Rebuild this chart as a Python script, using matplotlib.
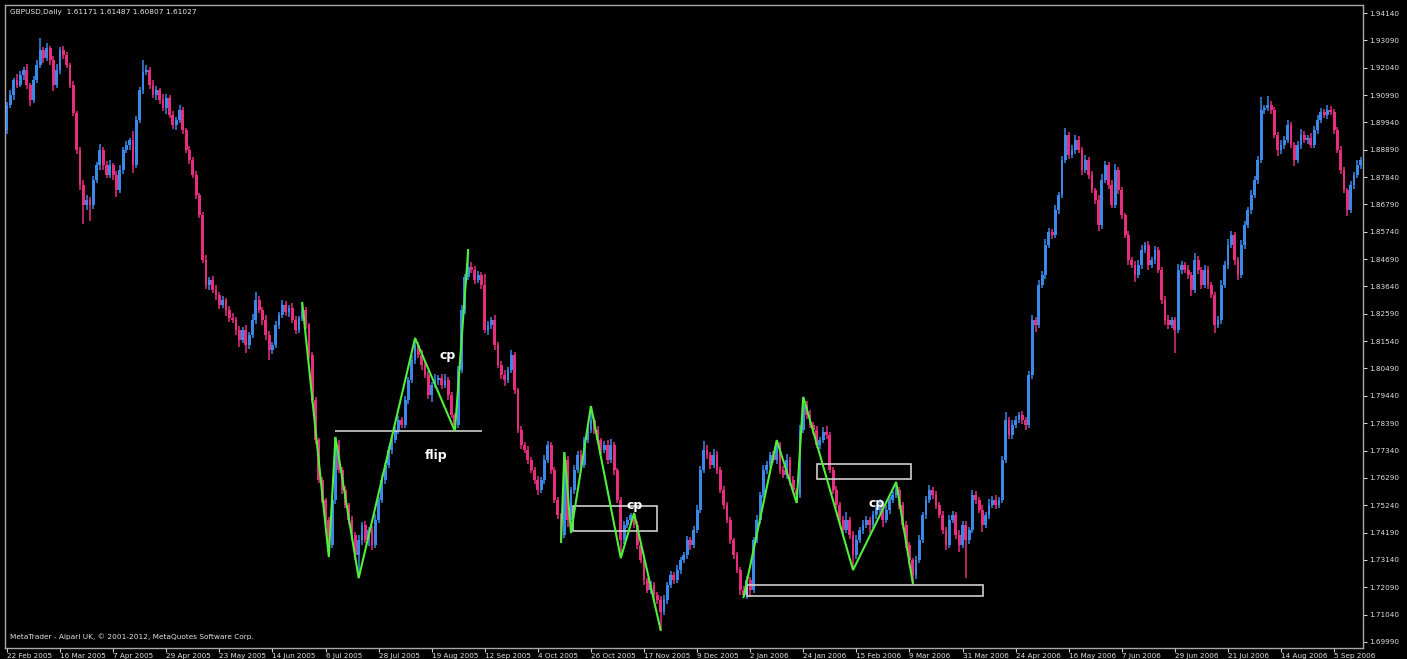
import matplotlib
matplotlib.use("Agg")
import matplotlib.pyplot as plt
from matplotlib.patches import Rectangle

# ---------------- data ----------------
first_open = 1.8965
closes = [
    1.9061, 1.9099, 1.9157, 1.9138, 1.9176, 1.9195, 1.9138, 1.9080, 1.9157, 1.9214, 1.9272, 1.9241, 1.9280, 1.9234, 1.9138, 1.9195, 1.9272, 1.9253, 1.9214, 1.9138,
    1.9030, 1.8888, 1.8754, 1.8677, 1.8696, 1.8677, 1.8773, 1.8830, 1.8888, 1.8830, 1.8792, 1.8830, 1.8792, 1.8734, 1.8811, 1.8888, 1.8907, 1.8926, 1.8830, 1.9003,
    1.9118, 1.9188, 1.9195, 1.9138, 1.9099, 1.9118, 1.9080, 1.9049, 1.9088, 1.9022, 1.8984, 1.9003, 1.9042, 1.8965, 1.8888, 1.8850, 1.8792, 1.8715, 1.8638, 1.8466,
    1.8370, 1.8389, 1.8350, 1.8331, 1.8293, 1.8312, 1.8274, 1.8243, 1.8235, 1.8197, 1.8158, 1.8197, 1.8139, 1.8178, 1.8235, 1.8312, 1.8274, 1.8235, 1.8178, 1.8120,
    1.8139, 1.8216, 1.8254, 1.8293, 1.8266, 1.8281, 1.8235, 1.8197, 1.8243, 1.8274, 1.8216, 1.8101, 1.7928, 1.7774, 1.7621, 1.7544, 1.7467, 1.7371, 1.7544, 1.7755,
    1.7659, 1.7582, 1.7525, 1.7467, 1.7410, 1.7333, 1.7390, 1.7448, 1.7390, 1.7429, 1.7371, 1.7467, 1.7544, 1.7621, 1.7678, 1.7736, 1.7774, 1.7813, 1.7851, 1.7832,
    1.7928, 1.8005, 1.8082, 1.8139, 1.8101, 1.8062, 1.8024, 1.7947, 1.7986, 1.8005, 1.8012, 1.7986, 1.8005, 1.7947, 1.7870, 1.7832, 1.8043, 1.8274, 1.8400, 1.8439,
    1.8427, 1.8389, 1.8408, 1.8370, 1.8197, 1.8216, 1.8235, 1.8139, 1.8062, 1.8024, 1.8005, 1.8043, 1.8101, 1.7966, 1.7813, 1.7755, 1.7736, 1.7698, 1.7659, 1.7621,
    1.7582, 1.7621, 1.7698, 1.7755, 1.7659, 1.7544, 1.7486, 1.7410, 1.7698, 1.7467, 1.7582, 1.7659, 1.7717, 1.7678, 1.7774, 1.7813, 1.7851, 1.7813, 1.7774, 1.7736,
    1.7755, 1.7698, 1.7755, 1.7659, 1.7544, 1.7390, 1.7448, 1.7467, 1.7486, 1.7448, 1.7371, 1.7314, 1.7237, 1.7198, 1.7218, 1.7179, 1.7160, 1.7114, 1.7160, 1.7218,
    1.7256, 1.7237, 1.7275, 1.7314, 1.7333, 1.7390, 1.7371, 1.7429, 1.7506, 1.7659, 1.7736, 1.7717, 1.7678, 1.7717, 1.7659, 1.7582, 1.7525, 1.7467, 1.7390, 1.7333,
    1.7275, 1.7198, 1.7179, 1.7237, 1.7198, 1.7390, 1.7467, 1.7563, 1.7659, 1.7678, 1.7717, 1.7698, 1.7755, 1.7659, 1.7640, 1.7698, 1.7621, 1.7582, 1.7563, 1.7813,
    1.7909, 1.7870, 1.7832, 1.7813, 1.7755, 1.7774, 1.7805, 1.7794, 1.7659, 1.7582, 1.7525, 1.7467, 1.7429, 1.7467, 1.7410, 1.7333, 1.7390, 1.7429, 1.7448, 1.7467,
    1.7448, 1.7486, 1.7506, 1.7525, 1.7467, 1.7506, 1.7544, 1.7563, 1.7582, 1.7525, 1.7448, 1.7371, 1.7314, 1.7256, 1.7314, 1.7390, 1.7486, 1.7544, 1.7582, 1.7563,
    1.7525, 1.7486, 1.7429, 1.7371, 1.7467, 1.7486, 1.7410, 1.7371, 1.7448, 1.7390, 1.7429, 1.7563, 1.7544, 1.7506, 1.7448, 1.7486, 1.7525, 1.7544, 1.7525, 1.7544,
    1.7698, 1.7851, 1.7794, 1.7832, 1.7851, 1.7870, 1.7851, 1.7832, 1.8024, 1.8235, 1.8216, 1.8370, 1.8408, 1.8523, 1.8573, 1.8562, 1.8658, 1.8715, 1.8850, 1.8946,
    1.8869, 1.8888, 1.8926, 1.8888, 1.8811, 1.8850, 1.8792, 1.8734, 1.8696, 1.8600, 1.8773, 1.8830, 1.8754, 1.8677, 1.8811, 1.8734, 1.8638, 1.8562, 1.8466, 1.8446,
    1.8408, 1.8446, 1.8504, 1.8523, 1.8446, 1.8466, 1.8504, 1.8427, 1.8312, 1.8235, 1.8216, 1.8235, 1.8197, 1.8427, 1.8446, 1.8427, 1.8408, 1.8350, 1.8466, 1.8427,
    1.8370, 1.8427, 1.8370, 1.8331, 1.8216, 1.8235, 1.8370, 1.8446, 1.8523, 1.8562, 1.8466, 1.8408, 1.8523, 1.8600, 1.8658, 1.8715, 1.8773, 1.8850, 1.9042, 1.9049,
    1.9061, 1.9042, 1.8946, 1.8888, 1.8907, 1.8926, 1.8984, 1.8907, 1.8850, 1.8907, 1.8946, 1.8926, 1.8934, 1.8907, 1.8965, 1.9003, 1.9034, 1.9022, 1.9042, 1.9034,
    1.8965, 1.8888, 1.8811, 1.8734, 1.8658, 1.8754, 1.8792, 1.8830, 1.8850,
]
# upper / lower shadows in pips beyond the candle body
wick_up = [
    12, 18, 9, 22, 14, 10, 25, 8, 16, 20, 46, 12, 19, 9, 15, 24, 11, 17, 13, 10,
    14, 9, 12, 18, 20, 11, 16, 13, 22, 10, 15, 19, 8, 14, 21, 12, 17, 10, 35, 16,
    13, 46, 18, 11, 20, 14, 9, 22, 15, 12, 17, 10, 19, 13, 8, 16, 11, 14, 9, 12,
    18, 10, 15, 21, 12, 17, 9, 14, 20, 11, 16, 13, 18, 10, 22, 30, 15, 12, 19, 14,
    10, 17, 13, 20, 15, 11, 18, 14, 9, 27, 12, 8, 10, 11, 9, 12, 8, 10, 15, 31,
    18, 12, 14, 9, 16, 11, 20, 13, 17, 10, 15, 22, 12, 18, 10, 14, 19, 11, 16, 13,
    15, 10, 18, 27, 12, 20, 14, 17, 11, 22, 13, 16, 24, 10, 12, 9, 15, 18, 12, 65,
    20, 14, 17, 11, 40, 16, 12, 19, 10, 15, 21, 13, 18, 11, 9, 14, 12, 16, 10, 13,
    15, 11, 19, 14, 12, 10, 13, 9, 31, 16, 12, 18, 14, 20, 11, 15, 54, 12, 17, 10,
    14, 19, 25, 11, 9, 13, 16, 12, 10, 8, 15, 11, 13, 9, 16, 12, 10, 14, 18, 12,
    16, 11, 19, 13, 10, 17, 12, 15, 20, 14, 35, 18, 12, 22, 16, 11, 14, 10, 13, 9,
    12, 10, 14, 16, 11, 13, 18, 12, 20, 15, 11, 17, 19, 13, 16, 22, 12, 14, 10, 18,
    31, 14, 19, 12, 16, 11, 20, 25, 13, 10, 15, 12, 17, 30, 11, 14, 18, 12, 20, 15,
    13, 17, 11, 22, 14, 19, 12, 16, 31, 13, 10, 15, 11, 9, 14, 18, 12, 16, 20, 13,
    17, 11, 14, 10, 19, 15, 12, 18, 14, 16, 13, 20, 15, 11, 17, 12, 22, 14, 18, 12,
    15, 30, 12, 19, 14, 11, 17, 13, 16, 20, 12, 18, 15, 22, 14, 11, 19, 13, 16, 25,
    12, 18, 20, 14, 11, 17, 13, 15, 10, 19, 22, 14, 12, 18, 25, 11, 13, 10, 16, 12,
    14, 19, 20, 13, 17, 11, 15, 12, 10, 14, 18, 12, 11, 23, 16, 13, 19, 10, 25, 14,
    12, 18, 15, 11, 13, 17, 19, 14, 22, 16, 12, 10, 18, 15, 13, 20, 17, 14, 50, 12,
    35, 16, 12, 10, 18, 14, 20, 11, 13, 17, 22, 15, 12, 18, 14, 19, 16, 13, 20, 15,
    12, 10, 14, 11, 9, 16, 13, 18, 12,
]
wick_dn = [
    15, 10, 18, 12, 9, 20, 14, 22, 11, 13, 10, 17, 12, 19, 25, 11, 14, 16, 10, 13,
    12, 16, 20, 75, 18, 60, 14, 11, 17, 20, 13, 10, 18, 25, 12, 15, 11, 19, 30, 13,
    10, 14, 12, 17, 11, 20, 16, 13, 22, 10, 15, 18, 12, 14, 11, 17, 13, 15, 10, 12,
    16, 20, 12, 18, 14, 11, 22, 15, 13, 19, 25, 12, 30, 14, 11, 16, 13, 20, 18, 40,
    15, 12, 17, 10, 14, 19, 13, 16, 11, 12, 14, 10, 12, 15, 11, 13, 18, 46, 12, 14,
    11, 16, 13, 18, 20, 20, 88, 17, 12, 22, 18, 11, 13, 10, 15, 12, 14, 11, 16, 13,
    12, 15, 10, 14, 13, 17, 11, 16, 25, 12, 18, 14, 11, 19, 13, 23, 12, 10, 14, 11,
    13, 17, 12, 15, 11, 20, 14, 18, 12, 16, 22, 13, 11, 15, 12, 14, 10, 17, 13, 15,
    18, 12, 14, 11, 16, 13, 15, 27, 12, 25, 50, 14, 11, 18, 12, 13, 10, 15, 12, 16,
    11, 14, 12, 18, 13, 69, 16, 11, 14, 12, 15, 13, 18, 11, 16, 20, 14, 69, 12, 15,
    13, 17, 11, 15, 12, 14, 18, 11, 13, 10, 12, 16, 14, 11, 17, 13, 15, 12, 14, 16,
    13, 18, 8, 15, 25, 12, 10, 14, 11, 16, 13, 12, 15, 17, 11, 14, 18, 12, 31, 10,
    12, 15, 11, 14, 13, 17, 12, 16, 11, 14, 13, 15, 18, 12, 14, 58, 16, 12, 15, 13,
    30, 12, 14, 11, 25, 13, 16, 12, 11, 14, 15, 12, 18, 31, 14, 11, 13, 16, 12, 15,
    14, 12, 17, 20, 13, 11, 16, 28, 12, 146, 14, 11, 15, 13, 25, 12, 14, 11, 16, 13,
    12, 10, 14, 16, 11, 13, 15, 20, 12, 14, 25, 11, 13, 16, 12, 14, 11, 15, 13, 12,
    16, 11, 14, 12, 18, 13, 15, 11, 17, 23, 14, 12, 16, 13, 11, 15, 14, 12, 20, 13,
    25, 12, 14, 11, 18, 13, 15, 12, 16, 20, 14, 11, 90, 13, 15, 12, 17, 22, 13, 14,
    16, 12, 14, 13, 30, 11, 15, 12, 14, 13, 18, 20, 12, 14, 11, 16, 13, 15, 12, 14,
    13, 15, 12, 22, 14, 16, 11, 13, 25, 12, 14, 11, 15, 13, 12, 14, 11, 13, 15, 12,
    14, 12, 16, 13, 25, 12, 14, 13, 15,
]

date_labels = ["22 Feb 2005", "16 Mar 2005", "7 Apr 2005", "29 Apr 2005", "23 May 2005",
               "14 Jun 2005", "6 Jul 2005", "28 Jul 2005", "19 Aug 2005", "12 Sep 2005",
               "4 Oct 2005", "26 Oct 2005", "17 Nov 2005", "9 Dec 2005", "2 Jan 2006",
               "24 Jan 2006", "15 Feb 2006", "9 Mar 2006", "31 Mar 2006", "24 Apr 2006",
               "16 May 2006", "7 Jun 2006", "29 Jun 2006", "21 Jul 2006", "14 Aug 2006",
               "5 Sep 2006"]
date_bars = [0, 16, 32, 48, 64, 80, 96, 112, 128, 144, 160, 176, 192, 208, 224,
             240, 256, 272, 288, 304, 320, 336, 352, 368, 384, 400]
price_ticks = [1.69990, 1.71040, 1.72090, 1.73140, 1.74190, 1.75240, 1.76290, 1.77340,
               1.78390, 1.79440, 1.80490, 1.81540, 1.82590, 1.83640, 1.84690, 1.85740,
               1.86790, 1.87840, 1.88890, 1.89940, 1.90990, 1.92040, 1.93090, 1.94140]

# zigzag swings (bar index, price)
zz1_bars = [89, 97, 99, 106, 123, 135, 139]
zz1_prices = [1.8301, 1.7325, 1.7786, 1.7244, 1.8166, 1.7809, 1.8504]
zz2_bars = [167, 168, 170, 176, 185, 189, 197]
zz2_prices = [1.7383, 1.7728, 1.7417, 1.7905, 1.7321, 1.7494, 1.7045]
zz3_bars = [222, 232, 238, 240, 255, 268, 273]
zz3_prices = [1.7171, 1.7774, 1.7533, 1.7940, 1.7275, 1.7613, 1.7225]

flip_level = 1.7809
flip_bars = (98.9, 143.2)
# zones: (bar start, bar end, low price, high price)
zones = [(170.6, 195.9, 1.7425, 1.7521),
         (244.2, 272.5, 1.7625, 1.7682),
         (223.1, 294.2, 1.7175, 1.7218)]
labels = [("cp", 132.9, 1.8097), ("flip", 129.3, 1.7713),
          ("cp", 189.3, 1.7523), ("cp", 262.0, 1.7529)]

title_text = "GBPUSD,Daily  1.61171 1.61487 1.60807 1.61027"
footer_text = "MetaTrader - Alpari UK, \u00a9 2001-2012, MetaQuotes Software Corp."

# ---------------- figure ----------------
W, H = 1407, 659
fig = plt.figure(figsize=(W / 100, H / 100), dpi=100, facecolor="black")
ax = fig.add_axes([5 / W, 11 / H, 1358 / W, 643 / H], facecolor="black")

n = min(len(closes), len(wick_up), len(wick_dn))
bull_c = "#3a88e8"
bear_c = "#e62d7e"
xs, lo, hi, bot, ht, cols = [], [], [], [], [], []
prev = first_open
for i in range(n):
    o, c = prev, closes[i]
    top = max(o, c)
    b = min(o, c)
    xs.append(i)
    hi.append(top + wick_up[i] * 1e-4)
    lo.append(b - wick_dn[i] * 1e-4)
    bot.append(b)
    ht.append(max(top - b, 0.0003))
    cols.append(bull_c if c >= o else bear_c)
    prev = c

ax.vlines(xs, lo, hi, colors=cols, linewidth=1.1, zorder=2)
ax.bar(xs, ht, bottom=bot, width=0.85, color=cols, linewidth=0, zorder=3)

green = "#4ef03a"
for bx, py in ((zz1_bars, zz1_prices), (zz2_bars, zz2_prices), (zz3_bars, zz3_prices)):
    ax.plot(bx, py, color=green, linewidth=1.5, zorder=5, solid_joinstyle="miter")

line_c = "#cfcfcf"
ax.hlines(flip_level, flip_bars[0], flip_bars[1], colors=line_c, linewidth=1.2, zorder=4)
for x0, x1, p0, p1 in zones:
    ax.add_patch(Rectangle((x0, p0), x1 - x0, p1 - p0, fill=False,
                           edgecolor=line_c, linewidth=1.2, zorder=4))
for txt, bx, py in labels:
    ax.text(bx, py, txt, color="white", fontsize=9, fontweight="bold",
            ha="center", va="center", zorder=6)

ax.set_xlim(-0.6, 408.7)
ax.set_ylim(1.69757, 1.94448)

ax.yaxis.tick_right()
ax.set_yticks(price_ticks)
ax.set_yticklabels([f"{p:.5f}" for p in price_ticks])
ax.set_xticks(date_bars)
ax.set_xticklabels(date_labels, ha="left")
ax.tick_params(axis="y", colors="#cfcfcf", labelsize=5.2, length=3, width=0.8, pad=1.5,
               labelcolor="#e0e0e0")
ax.tick_params(axis="x", colors="#cfcfcf", labelsize=5.2, length=3, width=0.8, pad=0.5,
               labelcolor="#e0e0e0")
for s in ax.spines.values():
    s.set_color("#a8a8a8")
    s.set_linewidth(1.0)

ax.text(0.004, 0.012, footer_text, transform=ax.transAxes, color="#e0e0e0",
        fontsize=5.3, ha="left", va="bottom")
fig.text(10 / W, 1 - 12 / H, title_text, color="#e8e8e8", fontsize=5.3,
         ha="left", va="center")

fig.savefig("out.png", dpi=100, facecolor="black")
